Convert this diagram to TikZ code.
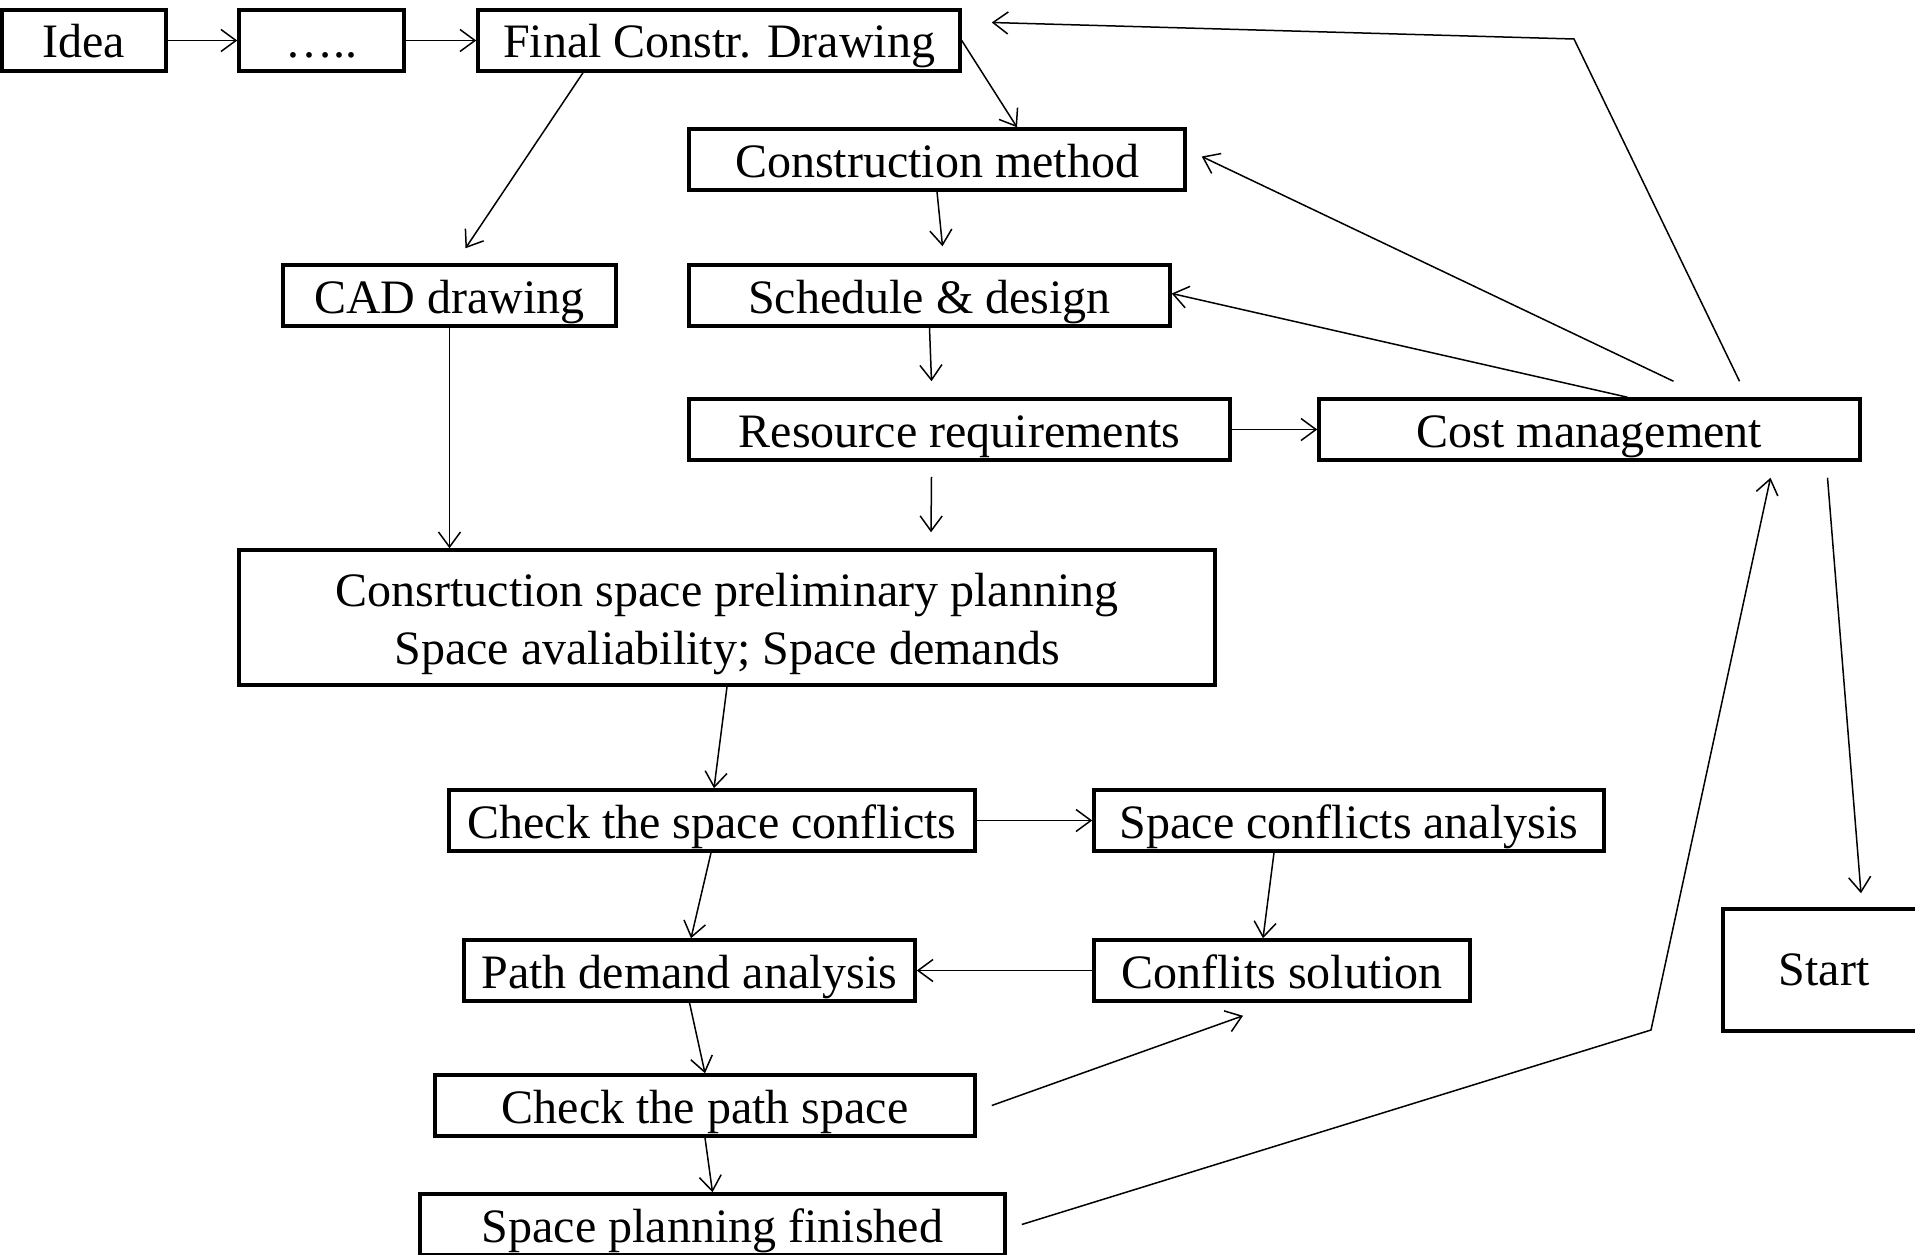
\documentclass[tikz,border=0pt]{standalone}
\usepackage{fontspec}
\setmainfont{Liberation Serif}
\usetikzlibrary{arrows.meta, positioning, calc}

\tikzset{
    bigbox/.style={draw, line width=3.5pt, inner sep=0pt, minimum height=61pt,
        align=center, font=\fontsize{48}{58}\selectfont},
    box/.style={bigbox, text height=48pt, text depth=13pt},
    flow/.style={draw, line width=1.5pt, -{Straight Barb[length=15pt,width=22pt]}},
}

\begin{document}
\begin{tikzpicture}[x=1pt, y=-1pt]
        \useasboundingbox (0,0) rectangle (1915,1255);

        \node[box, minimum width=164pt] (idea) at (84, 40.5) {Idea};
        \node[box, minimum width=165pt] (dots) at (321.5, 40.5) {…..};
        \node[box, minimum width=482pt] (final) at (719, 40.5) {Final Constr. Drawing};
        \node[box, minimum width=496pt] (method) at (937, 159.5) {Construction method};
        \node[box, minimum width=333pt] (cad) at (449.5, 295.5) {CAD drawing};
        \node[box, minimum width=481pt] (sched) at (929.5, 295.5) {Schedule \& design};
        \node[box, minimum width=541pt] (res) at (959.5, 429.5) {Resource requirements};
        \node[box, minimum width=541pt] (cost) at (1589.5, 429.5) {Cost management};
        \node[bigbox, minimum width=976pt, minimum height=135pt] (prelim) at (727, 617.5)
            {\rule{0pt}{46pt}Consrtuction space preliminary planning\\Space avaliability; Space demands};
        \node[box, minimum width=526pt] (check) at (712, 820.5) {Check the space conflicts};
        \node[box, minimum width=510pt] (sca) at (1349, 820.5) {Space conflicts analysis};
        \node[box, minimum width=451pt] (path) at (689.5, 970.5) {Path demand analysis};
        \node[box, minimum width=376pt] (sol) at (1282, 970.5) {Conflits solution};
        \node[box, minimum width=540pt] (cpath) at (705, 1105.5) {Check the path space};
        \node[box, minimum width=585pt] (done) at (712.5, 1224.5) {Space planning finished};
        \node[bigbox, minimum width=202pt, minimum height=122pt] (start) at (1824, 970) {Start}; % cut at the edge

        \coordinate (bendA) at (1574, 39);
        \coordinate (bendB) at (1651, 1030);
        \coordinate (loose) at ([xshift=-39pt, yshift=-13pt]sol.south);

        \path[every edge/.style={flow}]
            (idea) edge (dots)
            (dots) edge (final)
            (final.east) edge ([xshift=80pt]method.north)
            ([xshift=-136pt]final.south) edge ([xshift=16pt, yshift=15pt]cad.north)
            (method.south) edge ([xshift=13pt, yshift=17pt]sched.north)
            (sched.south) edge ([xshift=-28pt, yshift=16pt]res.north)
            (res) edge (cost)
            ([xshift=-28pt, yshift=-15pt]res.south) edge ([xshift=204pt, yshift=16pt]prelim.north)
            (cad.south) edge (cad.south |- prelim.north)
            ([xshift=84pt, yshift=16pt]cost.north) edge ([xshift=15pt, yshift=3pt]method.east)
            ([xshift=38pt]cost.north) edge ([yshift=2pt]sched.east)
            ([xshift=238pt, yshift=-16pt]cost.south) edge ([xshift=37pt, yshift=14pt]start.north)
            (prelim.south) edge ([xshift=2pt]check.north)
            (check) edge (sca)
            ([xshift=-1pt]check.south) edge ([xshift=1.5pt]path.north)
            ([xshift=-75pt]sca.south) edge ([xshift=-19pt]sol.north)
            (sol) edge (path)
            (path.south) edge (cpath.north)
            ([xshift=15pt]cpath.east) edge (loose)
            (cpath.south) edge (done.north)
            ;

        % feedback to the drawing and to cost
        \draw[flow] ([xshift=150pt, yshift=16pt]cost.north) -- (bendA) -- ([xshift=30pt, yshift=18pt]final.east);
        \draw[flow] ([xshift=15pt]done.east) -- (bendB) -- ([xshift=181pt, yshift=-16pt]cost.south);
\end{tikzpicture}
\end{document}
